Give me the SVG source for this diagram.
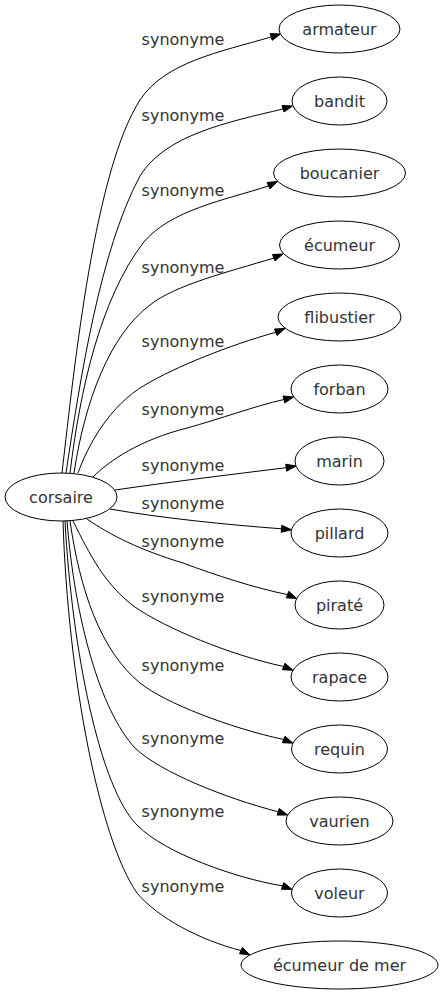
<svg xmlns="http://www.w3.org/2000/svg" width="443" height="995" viewBox="0 0 443 995">
<style>
.node ellipse{fill:#fff;stroke:#000;stroke-width:1}
text{font-family:"DejaVu Sans",sans-serif;font-size:16px;fill:#333}
.node text{text-anchor:middle}
.lbl{text-anchor:middle}
.edges path{fill:none;stroke:#000;stroke-width:1}
.edges polygon{fill:#000;stroke:#000;stroke-width:1}
</style>
<rect width="443" height="995" fill="#fff"/>
<g id="edges" class="edges">
<path d="M62,473 C75,360 95,170 140,100 C165,62 220,52 271,37"/>
<polygon points="270.2,33.6 280.5,34 272.2,40.3"/>
<text class="lbl" x="183" y="44.5">synonyme</text>
<path d="M66,473 C80,380 100,250 140,176 C165,135 228,122 283,109"/>
<polygon points="282,105.5 292.5,106 284,112"/>
<text class="lbl" x="183" y="120.5">synonyme</text>
<path d="M70,473 C80,390 100,300 143,243 C170,210 225,200 268.5,186"/>
<polygon points="267,182.5 277.5,181.5 270,189"/>
<text class="lbl" x="183" y="195.5">synonyme</text>
<path d="M74,473 C85,400 110,335 150,305 C175,285 228,272 274,258"/>
<polygon points="272.5,254.5 283,254 275,261"/>
<text class="lbl" x="183" y="272.5">synonyme</text>
<path d="M78,473 C88,445 110,405 145,385 C175,367 230,345 275.7,332.3"/>
<polygon points="274.5,329 285,328.5 277,335.5"/>
<text class="lbl" x="183" y="346.5">synonyme</text>
<path d="M93,477 C110,460 140,440 187,428 C220,419 255,406 283.8,399.5"/>
<polygon points="283,396 293.5,397 284.8,403"/>
<text class="lbl" x="183" y="414.5">synonyme</text>
<path d="M115,490 C170,482 235,474 286.2,467.7"/>
<polygon points="285.7,464.2 296,466 286.7,471.2"/>
<text class="lbl" x="183" y="470.5">synonyme</text>
<path d="M110,509 C160,518 230,525 281.5,528.8"/>
<polygon points="281.8,525.3 291.5,529.8 281.2,532.3"/>
<text class="lbl" x="183" y="508.5">synonyme</text>
<path d="M87,519 C110,535 140,550 183,563 C215,575 255,588 287.5,594.6"/>
<polygon points="288.8,591.3 296.7,598.5 286.2,597.8"/>
<text class="lbl" x="183" y="546.5">synonyme</text>
<path d="M73,521 C90,555 105,585 135,607 C165,628 230,655 283.7,666.5"/>
<polygon points="285,663.2 293,670.3 282.4,669.7"/>
<text class="lbl" x="183" y="601.5">synonyme</text>
<path d="M70,521 C80,590 100,650 140,683 C165,703 230,728 283.7,739.5"/>
<polygon points="285,736.2 293,743.2 282.4,742.7"/>
<text class="lbl" x="183" y="670.5">synonyme</text>
<path d="M67,521 C75,620 100,710 135,748 C160,772 225,798 278.2,811.8"/>
<polygon points="279.3,808.5 287.7,815 277.1,815.1"/>
<text class="lbl" x="183" y="743.5">synonyme</text>
<path d="M65,521 C72,650 100,790 138,826 C165,853 235,878 282.6,885.9"/>
<polygon points="283.8,882.6 292,889.4 281.4,889.2"/>
<text class="lbl" x="183" y="816.5">synonyme</text>
<path d="M63,521 C68,680 100,840 137,893 C158,918 200,940 241,950.6"/>
<polygon points="242.5,947.5 250,955 239.5,953.7"/>
<text class="lbl" x="183" y="891.5">synonyme</text>
</g>
<g id="node-corsaire" class="node"><ellipse cx="61" cy="497" rx="56" ry="24"/><text x="61" y="502.5">corsaire</text></g>
<g id="node-armateur" class="node"><ellipse cx="339.5" cy="29" rx="60.5" ry="24"/><text x="339.5" y="34.5">armateur</text></g>
<g id="node-bandit" class="node"><ellipse cx="339.5" cy="101" rx="47.5" ry="24"/><text x="339.5" y="106.5">bandit</text></g>
<g id="node-boucanier" class="node"><ellipse cx="339.5" cy="173" rx="66" ry="24"/><text x="339.5" y="178.5">boucanier</text></g>
<g id="node-ecumeur" class="node"><ellipse cx="339.5" cy="245" rx="60" ry="24"/><text x="339.5" y="250.5">écumeur</text></g>
<g id="node-flibustier" class="node"><ellipse cx="339.5" cy="317" rx="61.5" ry="24"/><text x="339.5" y="322.5">flibustier</text></g>
<g id="node-forban" class="node"><ellipse cx="339.5" cy="389" rx="48.5" ry="24"/><text x="339.5" y="394.5">forban</text></g>
<g id="node-marin" class="node"><ellipse cx="339.5" cy="461" rx="44.5" ry="24"/><text x="339.5" y="466.5">marin</text></g>
<g id="node-pillard" class="node"><ellipse cx="339.5" cy="533" rx="48.5" ry="24"/><text x="339.5" y="538.5">pillard</text></g>
<g id="node-pirate" class="node"><ellipse cx="339.5" cy="605" rx="44.5" ry="24"/><text x="339.5" y="610.5">piraté</text></g>
<g id="node-rapace" class="node"><ellipse cx="339.5" cy="677" rx="48.5" ry="24"/><text x="339.5" y="682.5">rapace</text></g>
<g id="node-requin" class="node"><ellipse cx="339.5" cy="749" rx="48" ry="24"/><text x="339.5" y="754.5">requin</text></g>
<g id="node-vaurien" class="node"><ellipse cx="339.5" cy="821" rx="53.5" ry="24"/><text x="339.5" y="826.5">vaurien</text></g>
<g id="node-voleur" class="node"><ellipse cx="339.5" cy="893" rx="48" ry="24"/><text x="339.5" y="898.5">voleur</text></g>
<g id="node-ecumeur-de-mer" class="node"><ellipse cx="339.5" cy="965" rx="98.5" ry="24"/><text x="339.5" y="970.5">écumeur de mer</text></g>
</svg>
